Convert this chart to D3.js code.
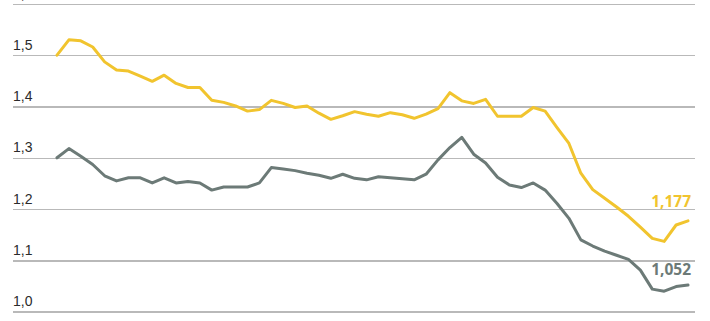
<!DOCTYPE html>
<html>
  <head>
    <meta http-equiv="Content-Type" content="text/html;charset=utf-8"/>
    <style type="text/css">

body {
  margin: 0;
  background: #fff;
  font-family: "Open Sans", "Noto Sans", sans-serif;
}

.grid line {
  stroke: #b9b9b9;
  stroke-width: 1.5px;
  shape-rendering: crispEdges;
}

.grid text {
  font-size: 14px;
  fill: #2b2b2b;
}

.series {
  fill: none;
  stroke-width: 3px;
  stroke-linejoin: round;
  stroke-linecap: round;
}

.endlabel {
  font-size: 15.5px;
  font-weight: 700;
  text-anchor: end;
}

    </style>
  </head>
  <body>
    <svg></svg>

    <script type="text/javascript" src="https://cdn.jsdelivr.net/npm/d3@7"></script>

    <script type="text/javascript">

var yellowValues = [1.500, 1.530, 1.528, 1.516, 1.487, 1.471, 1.469, 1.459, 1.449, 1.461,
                    1.445, 1.437, 1.437, 1.412, 1.408, 1.401, 1.391, 1.394, 1.412, 1.406,
                    1.398, 1.401, 1.387, 1.375, 1.382, 1.390, 1.385, 1.381, 1.388, 1.384,
                    1.377, 1.385, 1.396, 1.427, 1.411, 1.406, 1.414, 1.381, 1.381, 1.381,
                    1.398, 1.391, 1.359, 1.328, 1.270, 1.238, 1.221, 1.204, 1.186, 1.165,
                    1.143, 1.137, 1.169, 1.177];

var grayValues = [1.300, 1.318, 1.303, 1.287, 1.265, 1.255, 1.261, 1.261, 1.251, 1.261,
                  1.251, 1.254, 1.251, 1.237, 1.243, 1.243, 1.243, 1.251, 1.281, 1.278,
                  1.275, 1.270, 1.266, 1.260, 1.268, 1.260, 1.257, 1.263, 1.261, 1.259,
                  1.257, 1.268, 1.296, 1.320, 1.340, 1.307, 1.290, 1.262, 1.247, 1.242,
                  1.251, 1.237, 1.211, 1.182, 1.140, 1.128, 1.118, 1.110, 1.102, 1.081,
                  1.044, 1.040, 1.049, 1.052];

var yTicks = [1.0, 1.1, 1.2, 1.3, 1.4, 1.5, 1.6];
var endLabels = ["1,177", "1,052"];

var W = 710, H = 321;
var yellow = "#f1c42e", gray = "#6c7a77";

var svg = d3.select("svg")
    .attr("width", W)
    .attr("height", H);

var x = d3.scaleLinear().domain([0, yellowValues.length - 1]).range([57, 688]);
var y = d3.scaleLinear().domain([1.0, 1.6]).range([311.7, 3.9]);

// gridlines with labels sitting on top of them, at the left
var gridLeft = 13, gridRight = 695;
var grid = svg.append("g")
    .attr("class", "grid")
    .attr("transform", "translate(" + gridRight + ",0)")
    .call(d3.axisLeft(y)
      .tickValues(yTicks)
      .tickSize(gridRight - gridLeft)
      .tickFormat(function(d) { return d3.format(".1f")(d).replace(".", ","); }));

grid.select(".domain").remove();
grid.selectAll("text")
    .attr("x", -(gridRight - gridLeft))
    .attr("dy", "-0.42em")
    .attr("text-anchor", "start");

var line = d3.line()
    .x(function(d, i) { return x(i); })
    .y(function(d) { return y(d); });

svg.append("path")
    .attr("class", "series")
    .attr("stroke", gray)
    .attr("d", line(grayValues));

svg.append("path")
    .attr("class", "series")
    .attr("stroke", yellow)
    .attr("d", line(yellowValues));

// end value labels
svg.append("text")
    .attr("class", "endlabel")
    .attr("x", 691)
    .attr("y", y(yellowValues[yellowValues.length - 1]) - 14)
    .attr("fill", yellow)
    .text(endLabels[0]);

svg.append("text")
    .attr("class", "endlabel")
    .attr("x", 691)
    .attr("y", y(grayValues[grayValues.length - 1]) - 10)
    .attr("fill", gray)
    .text(endLabels[1]);

    </script>
  </body>
</html>
